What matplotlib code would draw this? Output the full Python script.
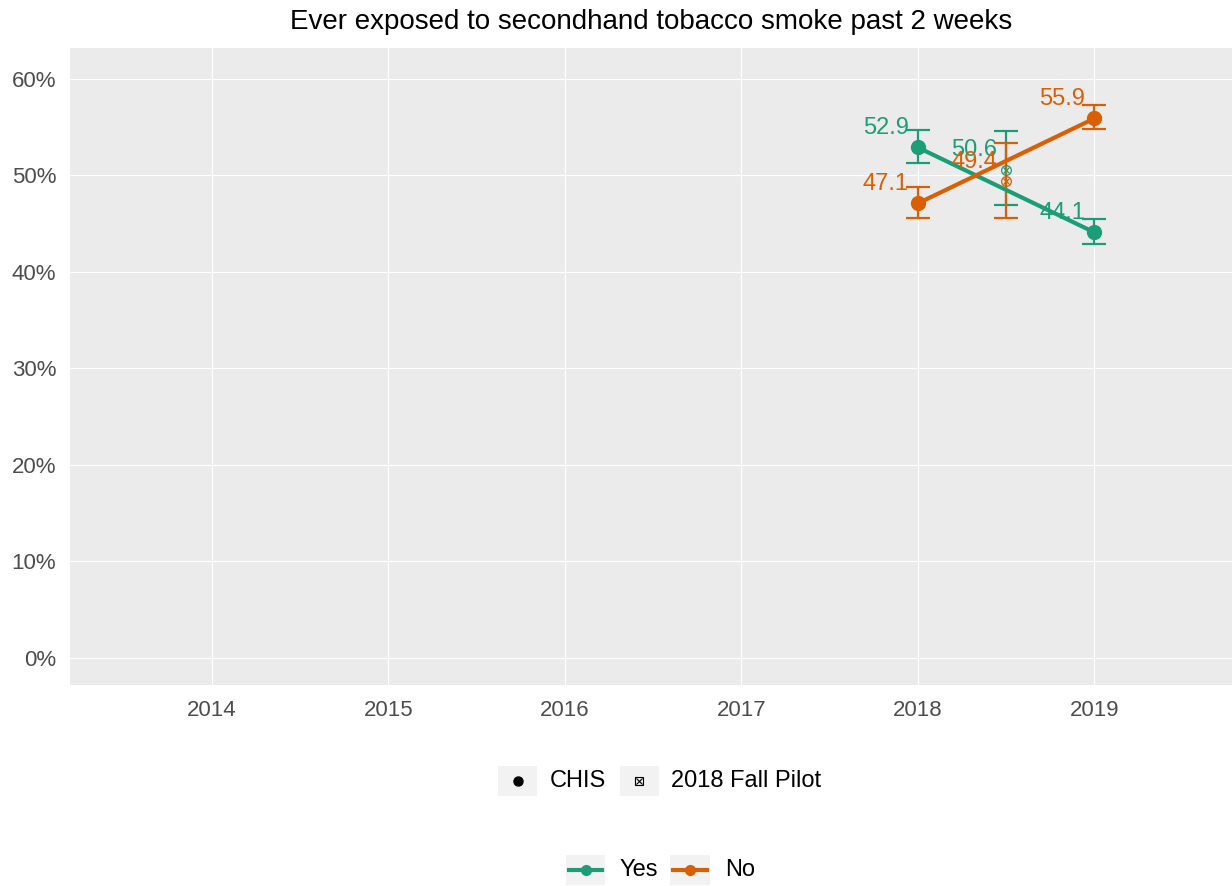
import matplotlib
matplotlib.use("Agg")
import matplotlib.pyplot as plt
from matplotlib.lines import Line2D
from matplotlib.patches import Rectangle

plt.rcParams['font.family'] = ['Liberation Sans', 'DejaVu Sans']

# CHIS annual estimates (percent) with 95% CI bounds
years = [2018, 2019]
yes_vals = [52.9, 44.1]
yes_lo = [51.3, 42.9]
yes_hi = [54.7, 45.5]
no_vals = [47.1, 55.9]
no_lo = [45.6, 54.8]
no_hi = [48.8, 57.3]

# 2018 Fall Pilot estimates
pilot_x = 2018.5
pilot_yes, pilot_yes_lo, pilot_yes_hi = 50.6, 46.9, 54.6
pilot_no, pilot_no_lo, pilot_no_hi = 49.4, 45.6, 53.4

x_ticks = [2014, 2015, 2016, 2017, 2018, 2019]
y_ticks = [0, 10, 20, 30, 40, 50, 60]

GREEN = "#1B9E77"
ORANGE = "#D95F02"

fig = plt.figure(figsize=(12.32, 8.86), dpi=100)
ax = fig.add_axes([70 / 1232, 1 - 685 / 886, 1 - 70 / 1232, (685 - 48) / 886])
ax.set_facecolor("#EBEBEB")
for s in ax.spines.values():
    s.set_visible(False)
ax.grid(True, color="white", linewidth=0.8)
ax.set_axisbelow(True)
ax.set_xlim(2013.197, 2019.78)
ax.set_ylim(-2.8, 63.2)
ax.set_xticks(x_ticks)
ax.set_xticklabels([str(x) for x in x_ticks])
ax.set_yticks(y_ticks)
ax.set_yticklabels([f"{v}%" for v in y_ticks])
ax.tick_params(axis="both", length=0, labelsize=16, labelcolor="#4D4D4D")
ax.tick_params(axis="x", pad=11)
ax.tick_params(axis="y", pad=10)


def draw_series(vals, lo, hi, pv, plo, phi, color):
    err = [[v - l for v, l in zip(vals, lo)], [h - v for v, h in zip(vals, hi)]]
    ax.errorbar(years, vals, yerr=err, fmt="none", ecolor=color, elinewidth=1.6,
                capsize=8.5, capthick=1.6, zorder=3)
    ax.plot(years, vals, color=color, linewidth=3, zorder=4)
    ax.plot(years, vals, "o", color=color, markersize=10, zorder=5)
    ax.errorbar([pilot_x], [pv], yerr=[[pv - plo], [phi - pv]], fmt="none",
                ecolor=color, elinewidth=1.6, capsize=8.5, capthick=1.6, zorder=3)
    ax.plot([pilot_x], [pv], "o", mfc="none", mec=color, markersize=7, mew=0.9, zorder=5)
    ax.plot([pilot_x], [pv], "x", color=color, markersize=5, mew=0.9, zorder=5)
    for x, v in list(zip(years, vals)) + [(pilot_x, pv)]:
        ax.annotate(f"{v:.1f}", (x, v), xytext=(-6.5, 9.5), textcoords="offset points",
                    ha="right", va="baseline", color=color, fontsize=17, zorder=6)


draw_series(yes_vals, yes_lo, yes_hi, pilot_yes, pilot_yes_lo, pilot_yes_hi, GREEN)
draw_series(no_vals, no_lo, no_hi, pilot_no, pilot_no_lo, pilot_no_hi, ORANGE)

fig.text(651 / 1232, 1 - 22 / 886, "Ever exposed to secondhand tobacco smoke past 2 weeks",
         ha="center", va="center", fontsize=20, color="black")


# Legends drawn in figure pixel coordinates
def fx(px):
    return px / 1232


def fy(py):
    return 1 - py / 886


def key_box(x0, x1, yc, h=30):
    fig.add_artist(Rectangle((fx(x0), fy(yc + h / 2)), fx(x1) - fx(x0), h / 886,
                             transform=fig.transFigure, facecolor="#F2F2F2",
                             edgecolor="none"))


# Source legend
yc1 = 781
key_box(498, 537, yc1)
fig.add_artist(Line2D([fx(518)], [fy(yc1)], marker="o", color="black", markersize=6.5,
                      linestyle="none", transform=fig.transFigure))
fig.text(fx(550), fy(yc1), "CHIS", ha="left", va="center", fontsize=17)
key_box(620, 659, yc1)
fig.add_artist(Line2D([fx(639)], [fy(yc1)], marker="s", mfc="none", mec="black", markersize=6,
                      mew=0.8, linestyle="none", transform=fig.transFigure))
fig.add_artist(Line2D([fx(639)], [fy(yc1)], marker="x", color="black", markersize=5,
                      mew=0.8, linestyle="none", transform=fig.transFigure))
fig.text(fx(671), fy(yc1), "2018 Fall Pilot", ha="left", va="center", fontsize=17)

# Response legend
yc2 = 870
for x0, x1, tx, label, col in [(566, 605, 619, "Yes", GREEN), (670, 710, 725, "No", ORANGE)]:
    key_box(x0, x1, yc2)
    fig.add_artist(Line2D([fx(x0 + 3), fx(x1 - 3)], [fy(yc2), fy(yc2)], color=col,
                          linewidth=3, transform=fig.transFigure))
    fig.add_artist(Line2D([fx((x0 + x1) / 2)], [fy(yc2)], marker="o", color=col,
                          markersize=7, linestyle="none", transform=fig.transFigure))
    fig.text(fx(tx), fy(yc2), label, ha="left", va="center", fontsize=17)

fig.savefig("out.png", dpi=100, facecolor="white")
